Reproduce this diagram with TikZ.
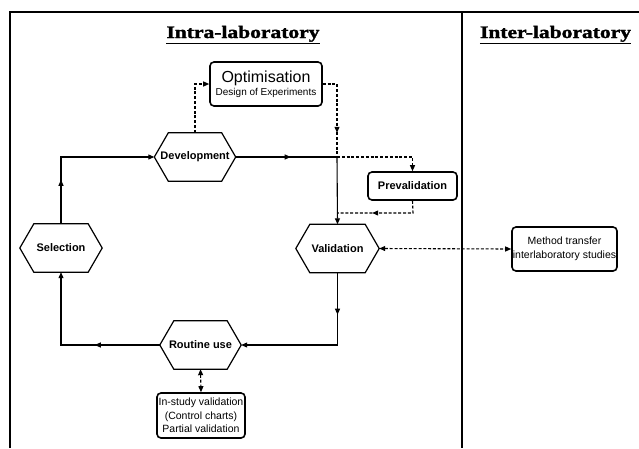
\documentclass[tikz,border=0pt]{standalone}
\usepackage{fontspec}
\setmainfont{Liberation Serif}
\newfontfamily\titlefont{Liberation Serif}[BoldFeatures={FakeBold=1.5}]
\newfontfamily\arialf{Liberation Sans}
\usetikzlibrary{arrows.meta,decorations.markings,calc}
\tikzset{
  tip/.tip={Triangle[length=6pt,width=5pt]},
  conn/.style={line width=1.1pt,-tip},
  dconn/.style={line width=1.1pt,dash pattern=on 3pt off 1.8pt},
  midarrow/.style={postaction={decorate},decoration={markings,mark=at position #1 with {\arrow{Triangle[length=6pt,width=5pt]}}}},
  hexlabel/.style={rectangle,inner sep=0pt,minimum height=48pt,font=\arialf\bfseries\fontsize{11}{13}\selectfont},
  hexline/.style={line width=1.2pt,line join=miter},
  rbox/.style={draw,line width=1.6pt,rounded corners=4pt,inner sep=0pt,align=center,font=\arialf\fontsize{10.5}{13.5}\selectfont},
  title/.style={anchor=base,font=\titlefont\bfseries\fontsize{17.5}{20}\selectfont},
}
\newcommand\hexnode[5]{%
  \node[hexlabel,minimum width=#4] (#1) at (#2,#3) {#5};
  \draw[hexline] (#1.west) -- ([xshift=14pt]#1.north west) -- ([xshift=-14pt]#1.north east) -- (#1.east) -- ([xshift=-14pt]#1.south east) -- ([xshift=14pt]#1.south west) -- cycle;
}
\begin{document}
\begin{tikzpicture}[x=1pt,y=-1pt]
\useasboundingbox (0,0) rectangle (639,448);
% frame
\draw[line width=1.6pt] (10,448) -- (10,12) -- (639,12);
\draw[line width=1.6pt] (462,12) -- (462,448);
% titles
\node[title] (t1) at (243,38) {\scalebox{1.23}[1]{\underline{Intra-laboratory}}};
\node[title] (t2) at (555.5,38) {\scalebox{1.23}[1]{\underline{Inter-laboratory}}};
% hexagons
\hexnode{dev}{195}{157}{81}{Development}
\hexnode{sel}{61}{248}{82}{Selection}
\hexnode{val}{337.5}{248.5}{83}{Validation}
\hexnode{rout}{200.5}{345}{81}{Routine use}
% boxes
\node[rbox,minimum width=112pt,minimum height=44pt] (opt) at (266,84) {{\fontsize{16}{18}\selectfont Optimisation}\\[-1pt]{\fontsize{10}{12}\selectfont Design of Experiments}};
\node[rbox,minimum width=89pt,minimum height=28pt,font=\arialf\bfseries\fontsize{11}{13}\selectfont] (prev) at (412.5,186) {Prevalidation};
\node[rbox,minimum width=105pt,minimum height=44pt] (meth) at (564.5,249) {Method transfer\\interlaboratory studies};
\node[rbox,minimum width=88pt,minimum height=45pt] (isv) at (201,415.5) {In-study validation\\(Control charts)\\Partial validation};
% junction coordinates
\coordinate (j1) at (337,157);
\coordinate (c1) at (sel.north |- dev.west);
\coordinate (c2) at (195,84);
\coordinate (c3) at (337,84);
\coordinate (c4) at (prev.south |- dev.east);
\coordinate (c5) at (413,213);
\coordinate (c6) at (337,213);
\coordinate (c7) at (val.south |- rout.east);
\coordinate (c8) at (sel.south |- rout.west);
% solid connectors
\draw[conn,midarrow=44pt] (sel.north) -- (c1) -- (dev.west);
\draw[line width=1.1pt,midarrow=55pt] (dev.east) -- (j1);
\draw[conn] (j1) -- (val.north);
\draw[conn,midarrow=42pt] (val.south) -- (c7) -- (rout.east);
\draw[conn,midarrow=65pt] (rout.west) -- (c8) -- (sel.south);
% dashed connectors
\draw[dconn,-tip] (dev.north) -- (c2) -- (opt.west);
\draw[dconn,midarrow=63pt] (opt.east) -- (c3) -- (j1);
\draw[dconn,-tip] (j1) -- (c4) -- (prev.north);
\draw[dconn,midarrow=53pt] (prev.south) -- (c5) -- (c6);
\draw[dconn,tip-tip] (val.east) -- (meth.west);
\draw[dconn,tip-tip] (rout.south) -- (isv.north);
\end{tikzpicture}
\end{document}
